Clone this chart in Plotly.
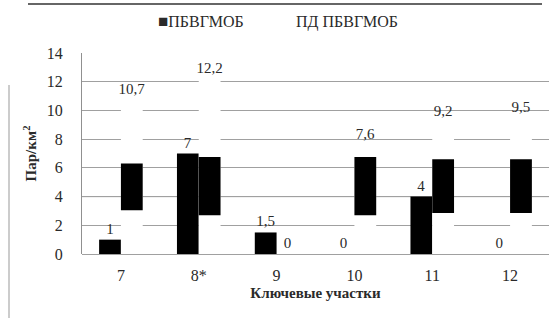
import plotly.graph_objects as go

categories = ["7", "8*", "9", "10", "11", "12"]
pbvgmob = [1, 7, 1.5, 0, 4, 0]
pd_pbvgmob = [10.7, 12.2, 0, 7.6, 9.2, 9.5]
# dark band printed inside the ПД ПБВГМОБ bars (scan artefact of the fill)
pd_band_low = [3.05, 2.7, None, 2.7, 2.85, 2.85]
pd_band_high = [6.3, 6.75, None, 6.75, 6.6, 6.6]
y_ticks = [0, 2, 4, 6, 8, 10, 12, 14]
series_names = ["ПБВГМОБ", "ПД ПБВГМОБ"]


def fmt(v):
    return ("%g" % v).replace(".", ",")


band_h = [None if (lo is None or hi is None) else hi - lo for lo, hi in zip(pd_band_low, pd_band_high)]

FONT = "Liberation Serif"
TXT = "#2a2a2a"

# plot area in pixels
L, R, T, B = 82, 3, 53, 64
PW, PH = 552 - L - R, 318 - T - B


def px(x):
    return (x - L) / PW


def py(y):
    return (318 - B - y) / PH


fig = go.Figure()
fig.add_trace(go.Bar(
    name=series_names[0], x=categories, y=pbvgmob,
    marker=dict(color="black", line=dict(width=0)),
    text=[fmt(v) for v in pbvgmob], textposition="outside",
    constraintext="none", cliponaxis=False,
    textfont=dict(family=FONT, size=15, color=TXT),
    offsetgroup="a", showlegend=False,
))
fig.add_trace(go.Bar(
    name=series_names[1], x=categories, y=pd_pbvgmob,
    marker=dict(color="white", line=dict(width=0)),
    text=[fmt(v) for v in pd_pbvgmob], textposition="outside",
    constraintext="none", cliponaxis=False,
    textfont=dict(family=FONT, size=15, color=TXT),
    offsetgroup="b", showlegend=False,
))
fig.add_trace(go.Bar(
    name="band", x=categories, y=band_h, base=pd_band_low,
    marker=dict(color="black", line=dict(width=0)),
    showlegend=False, offsetgroup="b", hoverinfo="skip",
))

fig.update_layout(
    width=552, height=318,
    margin=dict(l=L, r=R, t=T, b=B),
    paper_bgcolor="white", plot_bgcolor="white",
    barmode="group", bargap=0.44, bargroupgap=0,
    font=dict(family=FONT, size=15, color=TXT),
    showlegend=False,
    xaxis=dict(type="category", range=[-0.5, 5.5], showgrid=False, automargin=False,
               showline=False, ticks="", ticklabelstandoff=10,
               tickfont=dict(family=FONT, size=16, color=TXT),
               title=dict(text="<b>Ключевые участки</b>", font=dict(family=FONT, size=15, color=TXT),
                          standoff=4)),
    yaxis=dict(range=[0, 14], tickvals=y_ticks, showgrid=True, gridcolor="#a0a0a0", gridwidth=1,
               automargin=False,
               zeroline=True, zerolinecolor="#a0a0a0", zerolinewidth=1,
               showline=True, linecolor="#909090", linewidth=1, ticks="",
               ticklabelstandoff=15,
               tickfont=dict(family=FONT, size=16, color=TXT),
               title=dict(text="<b>Пар/км<sup>2</sup></b>", font=dict(family=FONT, size=15, color=TXT),
                          standoff=6)),
    separators=", ",
    annotations=[
        dict(xref="paper", yref="paper", x=px(156), y=py(22),
             xanchor="left", yanchor="middle", showarrow=False,
             text="<span style='font-size:17px'>■</span>" + series_names[0],
             font=dict(family=FONT, size=16, color=TXT)),
        dict(xref="paper", yref="paper", x=px(294), y=py(22),
             xanchor="left", yanchor="middle", showarrow=False,
             text=series_names[1], font=dict(family=FONT, size=16, color=TXT)),
    ],
    shapes=[
        dict(type="line", xref="paper", yref="y", x0=0, x1=1, y0=4, y1=4,
             line=dict(color="#222", width=1), layer="between"),
        dict(type="line", xref="paper", yref="paper", x0=px(28), x1=px(542), y0=py(4), y1=py(4),
             line=dict(color="#666", width=2)),
        dict(type="line", xref="paper", yref="paper", x0=px(9), x1=px(9), y0=py(85), y1=py(318),
             line=dict(color="#999", width=1)),
    ],
)

fig.write_html("out.html", config={"displayModeBar": False},
               post_script="document.body.style.margin='0';document.body.style.overflow='hidden';")
